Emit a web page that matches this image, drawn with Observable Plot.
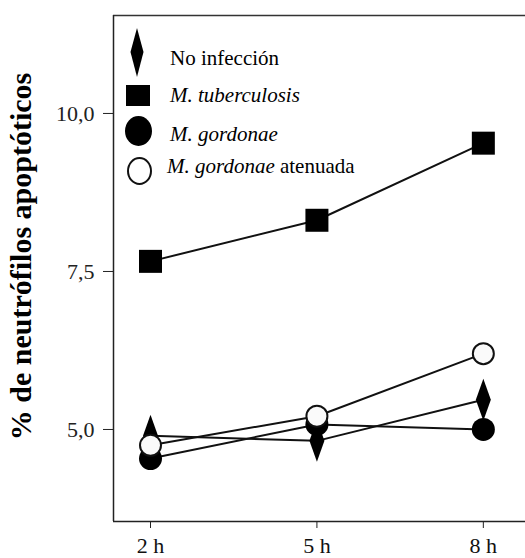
<!DOCTYPE html>
<html><head><meta charset="utf-8">
<script src="https://cdn.jsdelivr.net/npm/d3@7"></script>
<script src="https://cdn.jsdelivr.net/npm/@observablehq/plot@0.6"></script>
<style>
body{margin:0;background:#fff;}
#wrap{position:relative;width:525px;height:558px;font-family:"Liberation Serif","Times New Roman",Times,"DejaVu Serif",serif;}
#legend{position:absolute;left:0;top:0;width:525px;height:200px;overflow:visible;pointer-events:none;}
#legend text{font-family:"Liberation Serif","Times New Roman",Times,"DejaVu Serif",serif;font-size:21px;fill:#000;}
</style></head><body>
<div id="wrap"><svg id="legend"></svg></div>
<script>
const hours = [2, 5, 8];
const tuberculosis = [7.66, 8.31, 9.53];
const gordonae = [4.54, 5.08, 5.00];
const atenuada = [4.75, 5.21, 6.20];
const noInfeccion = [4.90, 4.82, 5.47];
const yTicks = [5, 7.5, 10];
const yTitle = "% de neutrófilos apoptóticos";
const legendLabels = [["No infección", ""], ["M. tuberculosis", "i"], ["M. gordonae", "i"], ["M. gordonae", "i", " atenuada"]];

const rows = (arr, s) => hours.map((h, i) => ({h, v: arr[i], s}));
const dTub = rows(tuberculosis, "tub"), dGor = rows(gordonae, "gor"), dAt = rows(atenuada, "at"), dNo = rows(noInfeccion, "no");

const FONT = '"Liberation Serif","Times New Roman",Times,"DejaVu Serif",serif';
const diamond = {draw(ctx){ctx.moveTo(0,-21);ctx.lineTo(7.5,0);ctx.lineTo(0,21);ctx.lineTo(-7.5,0);ctx.closePath();}};
const square = {draw(ctx){ctx.rect(-11.5,-11.5,23,23);}};
const ydom = [3.544, 11.55];
const xdom = [1.333, 8.76];
const fmtY = d => d.toFixed(1).replace(".", ",");
const fmtX = d => d + " h";
const chart = Plot.plot({
  width: 525, height: 558,
  marginLeft: 113, marginTop: 15, marginBottom: 37, marginRight: 0,
  style: {fontFamily: FONT, background: "#fff"},
  x: {domain: xdom, ticks: hours, tickFormat: fmtX, label: null},
  y: {domain: ydom, ticks: yTicks, tickFormat: fmtY, label: null},
  marks: [
    Plot.axisX({ticks: hours, tickFormat: fmtX, tickSize: 7, tickPadding: 9, fontSize: 22, stroke: "#222", color: "#111", label: null}),
    Plot.axisY({ticks: yTicks, tickFormat: fmtY, tickSize: 10, tickPadding: 9, fontSize: 22, stroke: "#222", color: "#222", label: null}),
    Plot.ruleY([ydom[1]], {stroke: "#333", strokeWidth: 1.5}),
    Plot.ruleY([ydom[0]], {stroke: "#222", strokeWidth: 1.5}),
    Plot.ruleX([xdom[0]], {stroke: "#222", strokeWidth: 1.5}),
    Plot.text([yTitle], {frameAnchor: "left", textAnchor: "middle", rotate: -90, dx: -92, dy: -12, fontSize: 30, fontWeight: "bold", fill: "#000"}),
    Plot.line(dNo, {x: "h", y: "v", stroke: "#111", strokeWidth: 2}),
    Plot.line(dTub, {x: "h", y: "v", stroke: "#111", strokeWidth: 2}),
    Plot.line(dGor, {x: "h", y: "v", stroke: "#111", strokeWidth: 2}),
    Plot.line(dAt, {x: "h", y: "v", stroke: "#111", strokeWidth: 2}),
    Plot.dot(dNo, {x: "h", y: "v", symbol: diamond, fill: "#000", stroke: "none"}),
    Plot.dot(dTub, {x: "h", y: "v", symbol: square, fill: "#000", stroke: "none"}),
    Plot.dot(dGor, {x: "h", y: "v", r: 11.5, fill: "#000", stroke: "none"}),
    Plot.dot(dAt, {x: "h", y: "v", r: 10.5, fill: "#fafafa", stroke: "#111", strokeWidth: 2})
  ]
});
const wrap = document.getElementById("wrap");
wrap.insertBefore(chart, wrap.firstChild);

// legend overlay (layout only)
const lg = d3.select("#legend");
const txtY = [65, 102, 141, 173];
lg.append("path").attr("d", `M137,28 L143.5,52 L137,77 L130.5,52Z`).attr("fill", "#000");
lg.append("rect").attr("x", 126).attr("y", 85).attr("width", 24).attr("height", 21).attr("fill", "#000");
lg.append("ellipse").attr("cx", 138.5).attr("cy", 131).attr("rx", 13.5).attr("ry", 15).attr("fill", "#000");
lg.append("ellipse").attr("cx", 139.5).attr("cy", 171).attr("rx", 11.5).attr("ry", 13).attr("fill", "#fff").attr("stroke", "#111").attr("stroke-width", 2);
legendLabels.forEach(([t, st, rest], i) => {
  const tx = lg.append("text").attr("x", i === 3 ? 167 : 170).attr("y", txtY[i]);
  tx.append("tspan").text(t).attr("font-style", st === "i" ? "italic" : null);
  if (rest) tx.append("tspan").text(rest);
});
</script></body></html>
